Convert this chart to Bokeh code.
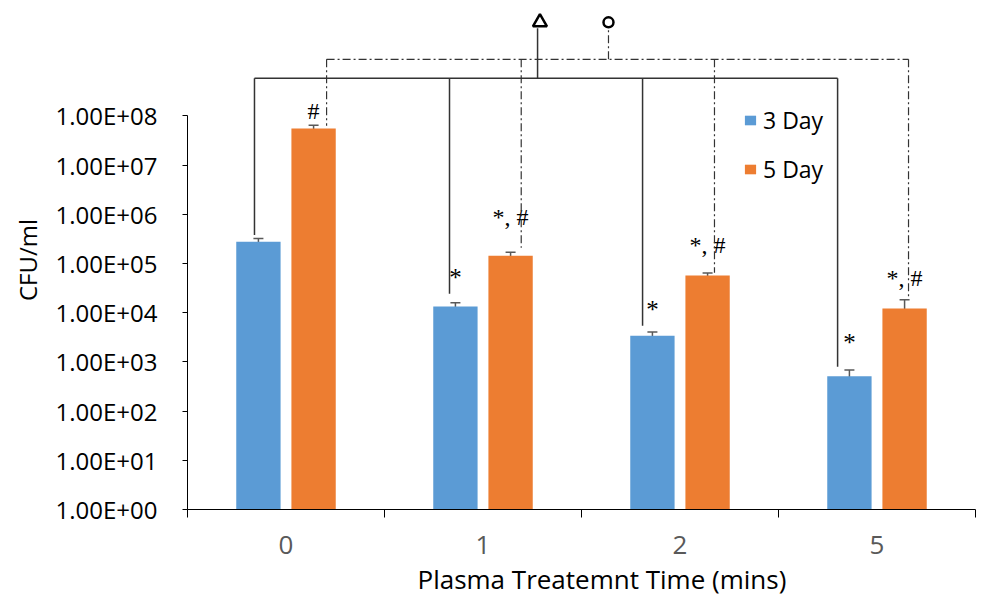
import numpy as np
from bokeh.plotting import figure
from bokeh.models import (ColumnDataSource, Whisker, FixedTicker, Legend, LegendItem,
                          Title, TeeHead)
from bokeh.core.properties import value
from bokeh.embed import file_html
from bokeh.resources import INLINE

# ---------------- data ----------------
categories = ["0", "1", "2", "5"]
day3 = [2.77e5, 1.34e4, 3.4e3, 5.1e2]
day3_err = [4.5e4, 2.5e3, 6.5e2, 1.7e2]
day5 = [5.5e7, 1.44e5, 5.7e4, 1.21e4]
day5_err = [9.0e6, 2.5e4, 7.0e3, 6.2e3]
y_ticks = [1, 10, 100, 1000, 10000, 100000, 1000000, 10000000, 100000000]
y_tick_labels = ["1.00E+00", "1.00E+01", "1.00E+02", "1.00E+03", "1.00E+04",
                 "1.00E+05", "1.00E+06", "1.00E+07", "1.00E+08"]
day3_marks = ["", "*", "*", "*"]
day5_marks = ["#", "*, #", "*, #", "*, #"]
series_names = ["3 Day", "5 Day"]

# ---------------- layout / style ----------------
BLUE = "#5B9BD5"
ORANGE = "#ED7D31"
OFF = 0.14
BW = 0.225
FONT = "Open Sans"
SERIF = "Liberation Serif"

xc = np.arange(len(categories)) + 0.5
x3 = xc - OFF
x5 = xc + OFF

src3 = ColumnDataSource(dict(x=x3, top=day3,
                             upper=np.array(day3) + np.array(day3_err),
                             lower=np.array(day3) - np.array(day3_err)))
src5 = ColumnDataSource(dict(x=x5, top=day5,
                             upper=np.array(day5) + np.array(day5_err),
                             lower=np.array(day5) - np.array(day5_err)))

p = figure(width=982, height=603, x_range=(0, 4), y_axis_type="log",
           y_range=(1, 10 ** 10.14), output_backend="svg", toolbar_location=None,
           min_border_left=187, min_border_right=7, min_border_top=10,
           min_border_bottom=94)
p.outline_line_color = None
p.xgrid.grid_line_color = None
p.ygrid.grid_line_color = None
p.background_fill_color = "white"
p.border_fill_color = "white"

r3 = p.vbar(x="x", top="top", bottom=1, width=BW, source=src3,
            fill_color=BLUE, line_color=None)
r5 = p.vbar(x="x", top="top", bottom=1, width=BW, source=src5,
            fill_color=ORANGE, line_color=None)

for src in (src3, src5):
    w = Whisker(base="x", upper="upper", lower="lower", source=src,
                line_color="#595959", line_width=1.5,
                upper_head=TeeHead(size=10, line_color="#595959", line_width=1.5),
                lower_head=TeeHead(size=10, line_color="#595959", line_width=1.5))
    p.add_layout(w)

# ---------------- axes ----------------
yax = p.yaxis[0]
yax.ticker = FixedTicker(ticks=y_ticks)
yax.major_label_overrides = {t: l for t, l in zip(y_ticks, y_tick_labels)}
yax.bounds = (1, 1e8)
yax.major_tick_out = 5
yax.major_tick_in = 0
yax.minor_tick_line_color = None
yax.axis_line_color = "black"
yax.major_tick_line_color = "black"
yax.major_label_standoff = 25
yax.major_label_text_font = FONT
yax.major_label_text_font_size = "24px"
yax.major_label_text_color = "black"
yax.axis_label = "CFU/ml"
yax.axis_label_text_font = FONT
yax.axis_label_text_font_size = "24px"
yax.axis_label_text_font_style = "normal"
yax.axis_label_text_color = "black"
yax.axis_label_standoff = 9

xax = p.xaxis[0]
xax.ticker = FixedTicker(ticks=list(xc), minor_ticks=[0, 1, 2, 3, 4])
xax.major_label_overrides = {float(t): c for t, c in zip(xc, categories)}
xax.major_tick_line_color = None
xax.major_tick_out = 0
xax.major_tick_in = 0
xax.minor_tick_out = 8
xax.minor_tick_in = 0
xax.minor_tick_line_color = "black"
xax.axis_line_color = "black"
xax.major_label_standoff = 18
xax.major_label_text_font = FONT
xax.major_label_text_font_size = "26px"
xax.major_label_text_color = "#595959"

p.add_layout(Title(text="Plasma Treatemnt Time (mins)", align="left", offset=230,
                   standoff=4, vertical_align="bottom",
                   text_font=FONT, text_font_size="26px", text_font_style="normal",
                   text_color="black"), "below")

# ---------------- significance marks ----------------
mark_y3 = [1, 10 ** 4.71, 10 ** 4.06, 10 ** 3.39]
mark_y5 = [10 ** 8.10, 10 ** 5.95, 10 ** 5.38, 10 ** 4.71]
idx3 = [i for i, m in enumerate(day3_marks) if m]
p.text(x=[x3[i] for i in idx3], y=[mark_y3[i] for i in idx3],
       text=[day3_marks[i] for i in idx3], text_align="center",
       text_baseline="middle", text_font=value(SERIF), text_font_size="25px",
       text_color="black")
p.text(x=list(x5), y=mark_y5, text=day5_marks, text_align="center",
       text_baseline="middle", text_font=value(SERIF), text_font_size="24px",
       text_color="black")

# ---------------- comparison brackets ----------------
LC = "#333333"
solid_x = [0.34, 1.33, 2.31, 3.30]
solid_end = [3.8e5, 2.43e4, 5.45e3, 8.0e2]
solid_y = 10 ** 8.761
dash_x = [0.706, 1.694, 2.675, 3.66]
dash_end = [6.3e7, 2.09e5, 6.5e4, 2.1e4]
dash_y = 10 ** 9.147
stem_top = 10 ** 9.78
mark_top = 10 ** 9.90
tri_x = 1.777
circ_x = 2.137

p.segment(x0=solid_x, y0=[solid_y] * 4, x1=solid_x, y1=solid_end,
          line_color=LC, line_width=1.5)
p.segment(x0=[solid_x[0], tri_x], y0=[solid_y, solid_y], x1=[solid_x[-1], tri_x],
          y1=[solid_y, stem_top], line_color=LC, line_width=1.5)
p.segment(x0=dash_x, y0=[dash_y] * 4, x1=dash_x, y1=dash_end,
          line_color=LC, line_width=1.2, line_dash="8 3 2 3")
p.segment(x0=[dash_x[0], circ_x], y0=[dash_y, dash_y], x1=[dash_x[-1], circ_x],
          y1=[dash_y, stem_top], line_color=LC, line_width=1.2, line_dash="8 3 2 3")
p.scatter(x=[tri_x + 0.012], y=[mark_top], marker="triangle", size=14,
          fill_color="white", line_color="black", line_width=2.5)
p.scatter(x=[circ_x], y=[mark_top], marker="circle", size=10,
          fill_color="white", line_color="black", line_width=2.5)

# ---------------- legend ----------------
legend = Legend(items=[LegendItem(label=series_names[0], renderers=[r3]),
                       LegendItem(label=series_names[1], renderers=[r5])],
                location=(556, 324), orientation="vertical",
                label_text_font=FONT, label_text_font_size="23px",
                label_text_color="black", glyph_width=14, glyph_height=12,
                label_height=30, spacing=17, padding=0, margin=0,
                label_standoff=6, border_line_color=None,
                background_fill_alpha=0)
p.add_layout(legend)

open("out.html", "w").write(file_html(p, INLINE))
